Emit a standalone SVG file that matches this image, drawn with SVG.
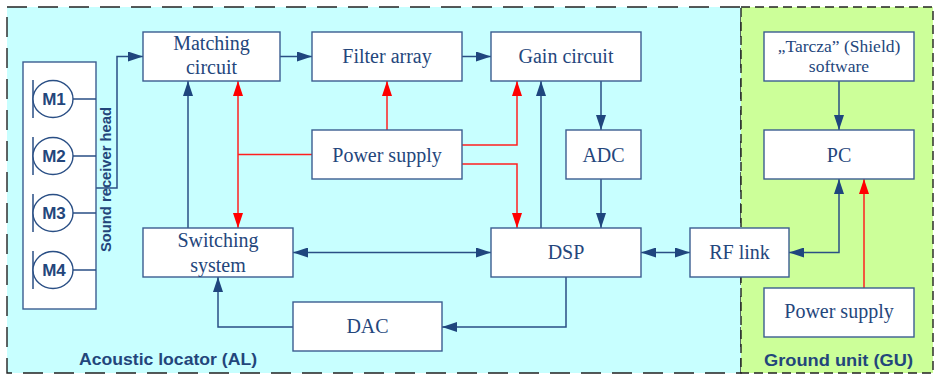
<svg xmlns="http://www.w3.org/2000/svg" width="936" height="376" viewBox="0 0 936 376">
<style>
.box{fill:#ffffff;stroke:#3b5d90;stroke-width:1.4}
.t{font-family:"Liberation Serif","Times New Roman",serif;font-size:20px;fill:#24467c;text-anchor:middle}
.ts{font-size:17.5px}
.b{font-family:"Liberation Sans",Arial,sans-serif;font-weight:bold;fill:#23467b}
.c{fill:none;stroke:#2a4f85;stroke-width:1.5}
.r{fill:none;stroke:#ff2020;stroke-width:1.5}
.mic{fill:#ffffff;stroke:#2a4f85;stroke-width:1.4}
</style>
<defs>
<marker id="ab" markerUnits="userSpaceOnUse" markerWidth="15" markerHeight="10" refX="15" refY="5" orient="auto-start-reverse"><path d="M0,0 L15,5 L0,10 z" fill="#1f467e"/></marker>
<marker id="ar" markerUnits="userSpaceOnUse" markerWidth="15" markerHeight="10" refX="15" refY="5" orient="auto-start-reverse"><path d="M0,0 L15,5 L0,10 z" fill="#ff0000"/></marker>
</defs>
<g id="regions">
<rect x="7" y="7" width="734" height="366" fill="#c8ffff" stroke="#222" stroke-width="1.4" stroke-dasharray="20 11"/>
<rect x="741" y="7" width="192" height="366" fill="#ccff99" stroke="#222" stroke-width="1.4" stroke-dasharray="9 5"/>
<text class="b" x="79" y="365" font-size="17" textLength="178" lengthAdjust="spacingAndGlyphs">Acoustic locator (AL)</text>
<text class="b" x="764" y="366" font-size="17" textLength="149" lengthAdjust="spacingAndGlyphs">Ground unit (GU)</text>
</g>
<g id="connectors">
<path class="c" d="M96,188 H117 V56.5 H143" marker-end="url(#ab)"/>
<path class="c" d="M280,56.5 H312" marker-end="url(#ab)"/>
<path class="c" d="M462,56.5 H491" marker-end="url(#ab)"/>
<path class="c" d="M601,81 V130" marker-end="url(#ab)"/>
<path class="c" d="M601,179 V228" marker-end="url(#ab)"/>
<path class="c" d="M541,228 V81" marker-end="url(#ab)"/>
<path class="c" d="M188,228 V81" marker-end="url(#ab)"/>
<path class="c" d="M293,252.5 H491" marker-start="url(#ab)" marker-end="url(#ab)"/>
<path class="c" d="M566,277 V327 H442" marker-end="url(#ab)"/>
<path class="c" d="M293,327 H218 V277" marker-end="url(#ab)"/>
<path class="c" d="M641,252.5 H690" marker-start="url(#ab)" marker-end="url(#ab)"/>
<path class="c" d="M839,179 V252.5 H789" marker-start="url(#ab)" marker-end="url(#ab)"/>
<path class="c" d="M839,81 V130" marker-end="url(#ab)"/>
<path class="r" d="M312,154.5 H238"/>
<path class="r" d="M238,81 V228" marker-start="url(#ar)" marker-end="url(#ar)"/>
<path class="r" d="M387,130 V81" marker-end="url(#ar)"/>
<path class="r" d="M462,145 H517 V81" marker-end="url(#ar)"/>
<path class="r" d="M462,164 H517 V228" marker-end="url(#ar)"/>
<path class="r" d="M864,288 V179" marker-end="url(#ar)"/>
</g>
<g id="head">
<rect class="box" x="23" y="62" width="73" height="247"/>
<g class="c">
<path d="M33,80 V118 M73,99 H96"/>
<path d="M33,137 V175 M73,156 H96"/>
<path d="M33,194 V232 M73,213 H96"/>
<path d="M33,251 V289 M73,270 H96"/>
</g>
<ellipse class="mic" cx="53" cy="99" rx="20" ry="18.5"/>
<ellipse class="mic" cx="53" cy="156" rx="20" ry="18.5"/>
<ellipse class="mic" cx="53" cy="213" rx="20" ry="18.5"/>
<ellipse class="mic" cx="53" cy="270" rx="20" ry="18.5"/>
<g class="b" font-size="17" text-anchor="middle">
<text x="54" y="105">M1</text>
<text x="54" y="162">M2</text>
<text x="54" y="219">M3</text>
<text x="54" y="276">M4</text>
</g>
<text class="b" font-size="14" text-anchor="middle" transform="translate(111,179.5) rotate(-90)" textLength="145" lengthAdjust="spacingAndGlyphs">Sound receiver head</text>
</g>
<g id="matching"><rect class="box" x="143" y="32" width="137" height="49"/><text class="t" x="211.5" y="50">Matching</text><text class="t" x="211.5" y="74">circuit</text></g>
<g id="filter"><rect class="box" x="312" y="32" width="150" height="49"/><text class="t" x="387" y="63">Filter array</text></g>
<g id="gain"><rect class="box" x="491" y="32" width="150" height="49"/><text class="t" x="566" y="63">Gain circuit</text></g>
<g id="power"><rect class="box" x="312" y="130" width="150" height="49"/><text class="t" x="387" y="161.5">Power supply</text></g>
<g id="adc"><rect class="box" x="566" y="130" width="75" height="49"/><text class="t" x="603.5" y="161.5">ADC</text></g>
<g id="switching"><rect class="box" x="143" y="228" width="150" height="49"/><text class="t" x="218" y="247">Switching</text><text class="t" x="218" y="272">system</text></g>
<g id="dsp"><rect class="box" x="491" y="228" width="150" height="49"/><text class="t" x="566" y="259">DSP</text></g>
<g id="dac"><rect class="box" x="293" y="302" width="149" height="49"/><text class="t" x="367.5" y="333">DAC</text></g>
<g id="rf"><rect class="box" x="690" y="228" width="99" height="49"/><text class="t" x="739.5" y="259">RF link</text></g>
<g id="tarcza"><rect class="box" x="764" y="32" width="150" height="49"/><text class="t ts" x="839" y="52">„Tarcza” (Shield)</text><text class="t ts" x="839" y="72">software</text></g>
<g id="pc"><rect class="box" x="764" y="130" width="150" height="49"/><text class="t" x="839" y="161.5">PC</text></g>
<g id="power-gu"><rect class="box" x="764" y="288" width="150" height="49"/><text class="t" x="839" y="318">Power supply</text></g>
</svg>
